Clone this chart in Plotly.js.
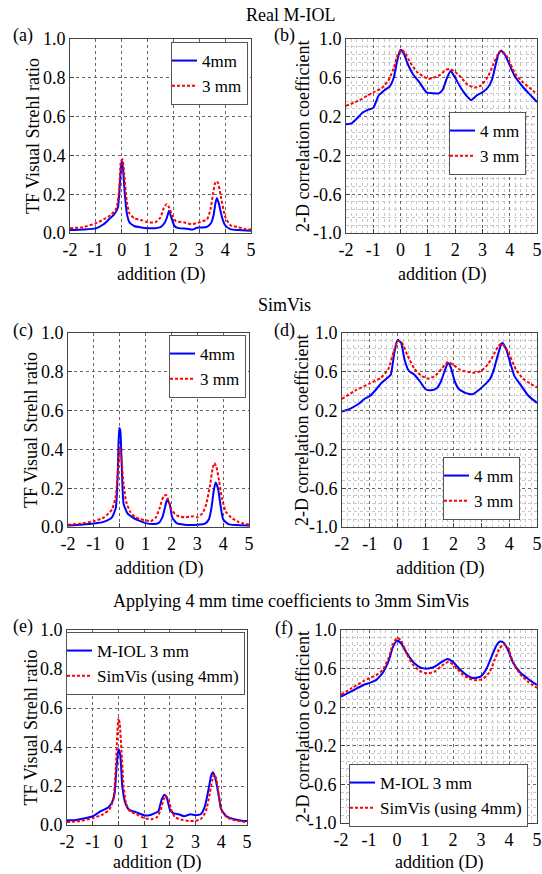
<!DOCTYPE html>
<html>
<head>
<meta charset="utf-8">
<script src="https://cdn.plot.ly/plotly-3.0.1.min.js"></script>
<style>html,body{margin:0;padding:0;background:#fff;}#chart{width:542px;height:874px;}</style>
</head>
<body>
<div id="chart"></div>
<script>
// ---------- DATA ----------
const xTickVals = [-2,-1,0,1,2,3,4,5];
const xTickText = ['-2','-1','0','1','2','3','4','5'];
const srTickVals = [0,0.2,0.4,0.6,0.8,1.0];
const srTickText = ['0.0','0.2','0.4','0.6','0.8','1.0'];
const ccTickVals = [-1,-0.6,-0.2,0.2,0.6,1.0];
const ccTickText = ['-1.0','-0.6','-0.2','0.2','0.6','1.0'];

const sectionTitles = ['Real M-IOL','SimVis','Applying 4 mm time coefficients to 3mm SimVis'];
const panelLabels = ['(a)','(b)','(c)','(d)','(e)','(f)'];
const xTitle = 'addition (D)';
const srTitle = 'TF Visual Strehl ratio';
const ccTitle = '2-D correlation coefficient';

// (a) Real M-IOL, Visual Strehl
const aNames = ['4mm','3 mm'];
const aX4 = [-2,-1.5,-1,-0.7,-0.5,-0.3,-0.15,-0.05,0,0.05,0.12,0.2,0.3,0.5,0.7,1,1.3,1.5,1.65,1.75,1.83,1.93,2.05,2.2,2.5,2.75,2.9,3.1,3.3,3.45,3.55,3.62,3.68,3.76,3.88,4.0,4.2,4.5,5];
const aY4 = [0.015,0.018,0.024,0.045,0.07,0.095,0.13,0.3,0.375,0.33,0.2,0.1,0.055,0.035,0.03,0.025,0.025,0.03,0.05,0.08,0.115,0.075,0.035,0.025,0.022,0.018,0.027,0.028,0.032,0.05,0.09,0.15,0.18,0.15,0.08,0.04,0.02,0.015,0.012];
const aX3 = [-2,-1.5,-1,-0.7,-0.4,-0.2,-0.1,-0.03,0.03,0.1,0.2,0.3,0.5,0.8,1.0,1.3,1.5,1.63,1.74,1.84,1.95,2.1,2.4,2.7,3.0,3.3,3.43,3.53,3.63,3.72,3.83,4.0,4.2,4.5,4.8,5];
const aY3 = [0.025,0.03,0.05,0.07,0.095,0.13,0.22,0.37,0.38,0.3,0.16,0.1,0.075,0.065,0.055,0.055,0.08,0.13,0.15,0.13,0.09,0.06,0.055,0.045,0.055,0.07,0.12,0.2,0.265,0.26,0.19,0.085,0.04,0.03,0.02,0.018];

// (b) Real M-IOL, correlation
const bNames = ['4 mm','3 mm'];
const bX4 = [-2,-1.8,-1.6,-1.4,-1.2,-1,-0.8,-0.6,-0.4,-0.25,-0.12,0,0.12,0.25,0.45,0.7,0.95,1.2,1.4,1.55,1.7,1.84,2.0,2.2,2.4,2.58,2.8,3.0,3.2,3.35,3.48,3.58,3.68,3.82,4.0,4.2,4.5,4.8,5];
const bY4 = [0.12,0.13,0.18,0.24,0.27,0.29,0.42,0.47,0.51,0.6,0.78,0.89,0.85,0.75,0.64,0.55,0.45,0.44,0.44,0.48,0.6,0.67,0.6,0.5,0.42,0.37,0.42,0.45,0.5,0.58,0.73,0.84,0.88,0.84,0.73,0.61,0.5,0.41,0.35];
const bX3 = [-2,-1.5,-1.2,-1,-0.7,-0.45,-0.25,-0.1,0.02,0.15,0.35,0.6,0.85,1.0,1.2,1.45,1.65,1.78,1.95,2.2,2.45,2.7,2.95,3.2,3.4,3.55,3.68,3.9,4.2,4.5,4.8,5];
const bY3 = [0.31,0.37,0.42,0.45,0.49,0.57,0.7,0.84,0.89,0.86,0.76,0.66,0.61,0.59,0.6,0.63,0.68,0.69,0.67,0.61,0.53,0.5,0.52,0.61,0.74,0.83,0.88,0.82,0.64,0.55,0.48,0.43];

// (c) SimVis, Visual Strehl
const cNames = ['4mm','3 mm'];
const cX4 = [-2,-1.5,-1,-0.6,-0.3,-0.15,-0.07,-0.02,0.02,0.07,0.15,0.3,0.5,0.7,1.0,1.3,1.5,1.65,1.75,1.83,1.93,2.03,2.2,2.5,3.0,3.3,3.45,3.55,3.64,3.71,3.8,3.9,4.0,4.2,4.5,5];
const cY4 = [0.008,0.012,0.018,0.028,0.05,0.1,0.3,0.51,0.5,0.35,0.12,0.07,0.05,0.035,0.02,0.015,0.02,0.05,0.1,0.14,0.12,0.05,0.02,0.012,0.012,0.018,0.04,0.1,0.19,0.23,0.2,0.11,0.04,0.015,0.01,0.008];
const cX3 = [-2,-1.5,-1,-0.6,-0.3,-0.15,-0.07,0,0.07,0.15,0.25,0.4,0.6,0.8,1.0,1.2,1.4,1.55,1.7,1.8,1.9,2.0,2.2,2.5,2.8,3.0,3.2,3.35,3.5,3.59,3.66,3.74,3.84,3.95,4.1,4.3,4.6,5];
const cY3 = [0.012,0.018,0.03,0.05,0.09,0.16,0.3,0.41,0.35,0.22,0.13,0.08,0.05,0.04,0.035,0.03,0.05,0.1,0.16,0.165,0.13,0.09,0.06,0.05,0.055,0.05,0.07,0.12,0.22,0.3,0.33,0.31,0.24,0.15,0.08,0.05,0.025,0.013];

// (d) SimVis, correlation
const dNames = ['4 mm','3 mm'];
const dX4 = [-2,-1.7,-1.4,-1.2,-1,-0.8,-0.6,-0.4,-0.25,-0.12,0,0.12,0.25,0.4,0.6,0.8,1.0,1.2,1.4,1.55,1.7,1.8,1.9,2.05,2.2,2.45,2.7,2.9,3.1,3.3,3.45,3.6,3.75,3.9,4.05,4.2,4.4,4.7,5];
const dY4 = [0.19,0.22,0.27,0.32,0.35,0.41,0.48,0.53,0.57,0.8,0.93,0.9,0.72,0.61,0.57,0.5,0.42,0.41,0.43,0.5,0.62,0.69,0.65,0.5,0.42,0.38,0.37,0.41,0.46,0.52,0.62,0.78,0.9,0.83,0.68,0.55,0.47,0.35,0.28];
const dX3 = [-2,-1.5,-1,-0.6,-0.35,-0.15,0,0.15,0.35,0.6,0.85,1.1,1.35,1.6,1.8,2.0,2.25,2.5,2.75,3.0,3.25,3.45,3.6,3.72,3.85,4.0,4.25,4.5,4.75,5];
const dY3 = [0.32,0.41,0.48,0.54,0.62,0.8,0.92,0.9,0.77,0.63,0.56,0.53,0.56,0.64,0.7,0.67,0.62,0.6,0.59,0.61,0.68,0.78,0.86,0.89,0.86,0.78,0.62,0.53,0.48,0.44];

// (e) Applying 4 mm coefficients, Visual Strehl
const eNames = ['M-IOL 3 mm','SimVis (using 4mm)'];
const eXm = [-2,-1.7,-1.4,-1,-0.7,-0.4,-0.25,-0.15,-0.07,0,0.07,0.15,0.25,0.4,0.7,1.0,1.2,1.4,1.55,1.68,1.78,1.88,2.0,2.15,2.35,2.55,2.8,3.0,3.2,3.35,3.5,3.6,3.67,3.77,3.9,4.0,4.2,4.5,4.8,5];
const eYm = [0.025,0.025,0.032,0.045,0.07,0.09,0.115,0.16,0.3,0.39,0.36,0.2,0.12,0.08,0.065,0.05,0.05,0.06,0.07,0.13,0.155,0.14,0.08,0.06,0.055,0.045,0.055,0.05,0.055,0.09,0.18,0.25,0.27,0.24,0.15,0.08,0.045,0.03,0.022,0.02];
const eXs = [-2,-1.5,-1,-0.6,-0.35,-0.2,-0.1,-0.04,0,0.05,0.12,0.2,0.3,0.45,0.7,1.0,1.3,1.5,1.65,1.75,1.84,1.95,2.05,2.2,2.5,2.8,3.0,3.2,3.4,3.55,3.65,3.72,3.8,3.9,4.0,4.2,4.5,4.8,5];
const eYs = [0.015,0.02,0.035,0.055,0.08,0.13,0.3,0.48,0.55,0.52,0.38,0.2,0.11,0.07,0.055,0.035,0.03,0.04,0.08,0.13,0.15,0.13,0.08,0.04,0.025,0.02,0.022,0.03,0.07,0.16,0.23,0.26,0.24,0.16,0.08,0.04,0.025,0.018,0.015];

// (f) Applying 4 mm coefficients, correlation
const fNames = ['M-IOL 3 mm','SimVis (using 4mm)'];
const fXm = [-2,-1.6,-1.2,-1,-0.75,-0.5,-0.3,-0.15,0,0.15,0.35,0.6,0.85,1.1,1.35,1.6,1.8,2.0,2.25,2.5,2.75,3.0,3.2,3.4,3.55,3.68,3.8,3.95,4.15,4.4,4.7,5];
const fYm = [0.31,0.37,0.43,0.45,0.48,0.56,0.68,0.82,0.89,0.86,0.76,0.66,0.61,0.6,0.62,0.67,0.7,0.67,0.59,0.53,0.5,0.52,0.6,0.74,0.84,0.88,0.87,0.8,0.66,0.56,0.49,0.43];
const fXs = [-2,-1.6,-1.2,-1,-0.75,-0.5,-0.3,-0.15,0,0.15,0.35,0.6,0.85,1.1,1.35,1.6,1.85,2.05,2.3,2.55,2.8,3.05,3.3,3.5,3.65,3.8,3.95,4.15,4.4,4.7,5];
const fYs = [0.33,0.4,0.47,0.5,0.53,0.59,0.71,0.85,0.92,0.89,0.75,0.63,0.57,0.55,0.57,0.63,0.67,0.63,0.55,0.5,0.48,0.49,0.56,0.7,0.8,0.855,0.82,0.66,0.54,0.46,0.4];

// ---------- LAYOUT HELPERS ----------
const W = 542, H = 874;
const FONT = '"Liberation Serif", "Times New Roman", serif';
const FS = 18;
const LFS = 17;
const fx = p => p / W;
const fy = p => 1 - p / H;

const panels = [
  {x:[70,251], y:[39,233], cc:false, leg:{r:248, t:42}},
  {x:[346,537], y:[39,233], cc:true, leg:{r:526, t:112}},
  {x:[68,249], y:[333,527], cc:false, leg:{r:246, t:335}},
  {x:[342,537], y:[333,527], cc:true, leg:{r:520, t:457}},
  {x:[67,247], y:[630,825], cc:false, leg:{r:245, t:632}},
  {x:[341,537], y:[630,823], cc:true, leg:{r:528, t:764}}
];
const series = [
  [aX4,aY4,aX3,aY3,aNames],
  [bX4,bY4,bX3,bY3,bNames],
  [cX4,cY4,cX3,cY3,cNames],
  [dX4,dY4,dX3,dY3,dNames],
  [eXm,eYm,eXs,eYs,eNames],
  [fXm,fYm,fXs,fYs,fNames]
];

const layout = {
  width: W, height: H,
  margin: {l:0, r:0, t:0, b:0},
  paper_bgcolor: '#fff', plot_bgcolor: '#fff',
  font: {family: FONT, size: FS, color: '#000'},
  showlegend: true,
  annotations: [],
};
const traces = [];

panels.forEach((p, i) => {
  const n = i + 1;
  const xa = n === 1 ? 'xaxis' : 'xaxis' + n;
  const ya = n === 1 ? 'yaxis' : 'yaxis' + n;
  const xr = n === 1 ? 'x' : 'x' + n;
  const yr = n === 1 ? 'y' : 'y' + n;
  const legKey = n === 1 ? 'legend' : 'legend' + n;
  const common = {
    showline: true, mirror: true, linecolor: '#444', linewidth: 1,
    ticks: 'inside', ticklen: 4, tickcolor: '#444',
    showgrid: true, gridcolor: '#666', gridwidth: 1, griddash: '3px,3px',
    zeroline: false, tickfont: {family: FONT, size: FS, color: '#000'},
    ticklabeloverflow: 'allow', fixedrange: true
  };
  layout[xa] = Object.assign({}, common, {
    domain: [fx(p.x[0]), fx(p.x[1])], anchor: yr,
    range: [-2, 5], tickmode: 'array', tickvals: xTickVals, ticktext: xTickText
  });
  layout[ya] = Object.assign({}, common, {
    domain: [fy(p.y[1]), fy(p.y[0])], anchor: xr,
    range: p.cc ? [-1, 1] : [0, 1], tickmode: 'array',
    tickvals: p.cc ? ccTickVals : srTickVals, ticktext: p.cc ? ccTickText : srTickText
  });
  if (p.cc) {
    const minor = {showgrid: true, gridcolor: '#c8c8c8', gridwidth: 1, griddash: 'dot', ticks: ''};
    layout[xa].minor = Object.assign({dtick: 0.2, tick0: -2}, minor);
    layout[ya].minor = Object.assign({dtick: 0.08, tick0: -1}, minor);
  }
  layout[legKey] = {
    x: fx(p.leg.r), y: fy(p.leg.t), xanchor: 'right', yanchor: 'top',
    xref: 'paper', yref: 'paper',
    bgcolor: '#fff', bordercolor: '#555', borderwidth: 1,
    font: {family: FONT, size: LFS, color: '#000'},
    itemwidth: 30, indentation: -10, tracegroupgap: 0, traceorder: 'normal'
  };
  const s = series[i];
  traces.push({
    x: s[0], y: s[1], name: s[4][0], type: 'scatter', mode: 'lines',
    xaxis: xr, yaxis: yr, legend: legKey,
    line: {color: '#0000ff', width: 2, shape: 'spline', smoothing: 0.5}
  });
  traces.push({
    x: s[2], y: s[3], name: s[4][1], type: 'scatter', mode: 'lines',
    xaxis: xr, yaxis: yr, legend: legKey,
    line: {color: '#ff0000', width: 2, dash: '3px,2px', shape: 'spline', smoothing: 0.5}
  });

  const labelX = (i % 2 === 0) ? 23 : 284;
  const labelY = [35,35,330,330,626,628][i];
  layout.annotations.push({text: panelLabels[i], xref:'paper', yref:'paper',
    x: fx(labelX), y: fy(labelY), showarrow:false, xanchor:'center', yanchor:'middle',
    font:{family:FONT, size:FS}});
  const xtY = [274,274,568,568,862,862][i];
  layout.annotations.push({text: xTitle, xref:'paper', yref:'paper',
    x: fx((p.x[0]+p.x[1])/2), y: fy(xtY), showarrow:false, xanchor:'center', yanchor:'middle',
    font:{family:FONT, size:FS}});
  const ytX = [33,303,31,302,30,302][i];
  layout.annotations.push({text: p.cc ? ccTitle : srTitle, xref:'paper', yref:'paper',
    x: fx(ytX), y: fy((p.y[0]+p.y[1])/2), showarrow:false, textangle:-90,
    xanchor:'center', yanchor:'middle', font:{family:FONT, size:FS}});
});

[[290,15],[284,305],[291,601]].forEach((pos, k) => {
  layout.annotations.push({text: sectionTitles[k], xref:'paper', yref:'paper',
    x: fx(pos[0]), y: fy(pos[1]), showarrow:false, xanchor:'center', yanchor:'middle',
    font:{family:FONT, size:FS}});
});

Plotly.newPlot('chart', traces, layout, {displayModeBar:false, staticPlot:true});
</script>
</body>
</html>
